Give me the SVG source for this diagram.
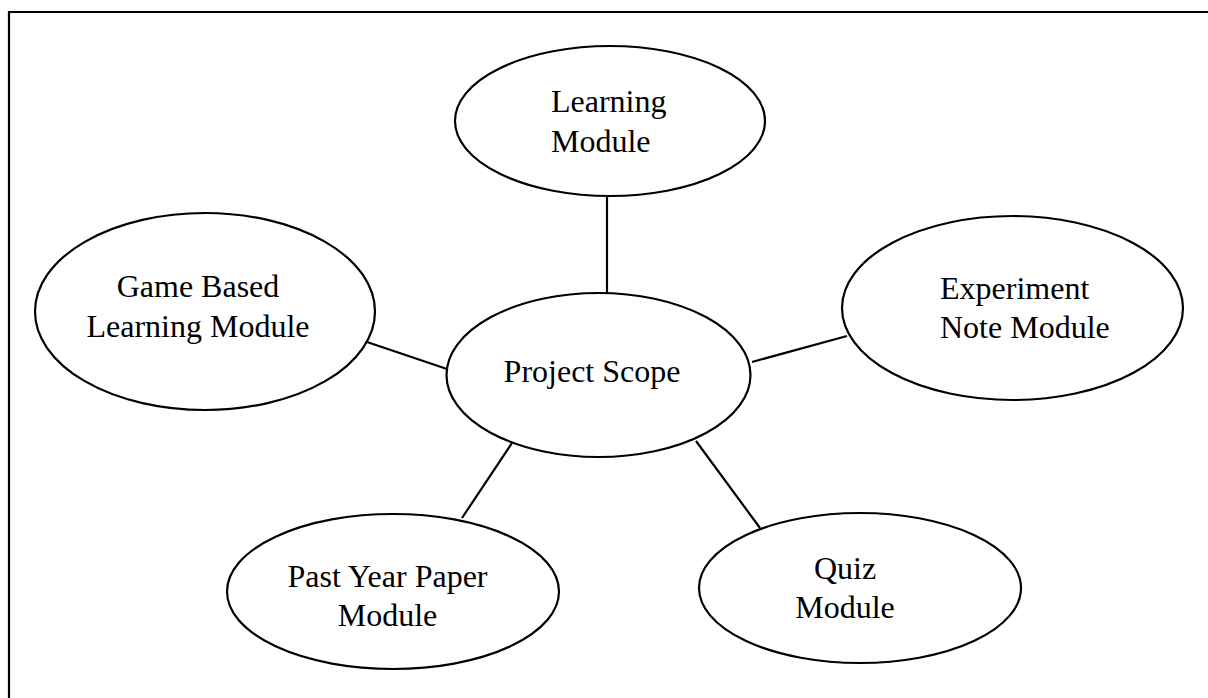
<svg xmlns="http://www.w3.org/2000/svg" width="1208" height="698" viewBox="0 0 1208 698">
  <style>
    .frame { fill: none; stroke: #000; stroke-width: 2.2; }
    .node ellipse { fill: #fff; stroke: #000; stroke-width: 2.2; }
    .node text { font-family: "Liberation Serif", "Times New Roman", serif; font-size: 32px; fill: #000; }
    .mid { text-anchor: middle; }
    #connectors line { stroke: #000; stroke-width: 2.2; }
  </style>
  <rect width="1208" height="698" fill="#fff"/>
  <!-- page frame (top and left edges) -->
  <path class="frame" d="M9 720 V12 H1230"/>

  <g id="connectors">
    <line x1="607" y1="196" x2="607" y2="293"/>
    <line x1="367" y1="342" x2="447" y2="369"/>
    <line x1="752" y1="362" x2="847" y2="336"/>
    <line x1="512" y1="443" x2="462" y2="518"/>
    <line x1="696" y1="441" x2="760" y2="528"/>
  </g>

  <g id="learning-module" class="node">
    <ellipse cx="610" cy="121" rx="155" ry="75"/>
    <text x="551" y="112">Learning</text>
    <text x="551" y="152">Module</text>
  </g>

  <g id="game-based-learning-module" class="node">
    <ellipse cx="205" cy="311.5" rx="170" ry="98.5"/>
    <text class="mid" x="198" y="297">Game Based</text>
    <text class="mid" x="198" y="337">Learning Module</text>
  </g>

  <g id="project-scope" class="node">
    <ellipse cx="598.5" cy="375" rx="152" ry="82"/>
    <text class="mid" x="592" y="382">Project Scope</text>
  </g>

  <g id="experiment-note-module" class="node">
    <ellipse cx="1012.5" cy="308" rx="170.5" ry="92"/>
    <text x="940" y="299">Experiment</text>
    <text x="940" y="338">Note Module</text>
  </g>

  <g id="past-year-paper-module" class="node">
    <ellipse cx="393" cy="591.5" rx="166" ry="77.5"/>
    <text class="mid" x="387.5" y="587">Past Year Paper</text>
    <text class="mid" x="387.5" y="626">Module</text>
  </g>

  <g id="quiz-module" class="node">
    <ellipse cx="860" cy="588" rx="161" ry="75"/>
    <text class="mid" x="845" y="579">Quiz</text>
    <text class="mid" x="845" y="618">Module</text>
  </g>
</svg>
